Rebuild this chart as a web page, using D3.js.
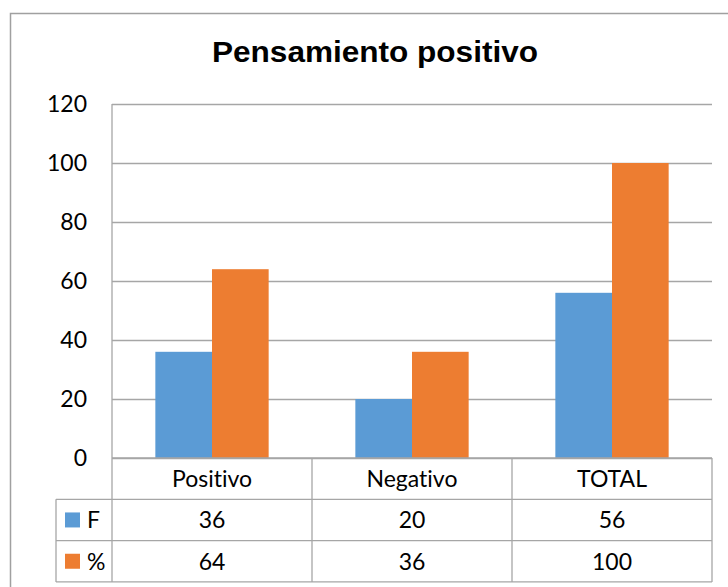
<!DOCTYPE html>
<html>
<head>
<meta charset="utf-8">
<script src="https://cdn.jsdelivr.net/npm/d3@7"></script>
<style>
  body { margin: 0; background: #fff; }
  svg { display: block; }
  text { font-variant-ligatures: none; font-feature-settings: "liga" 0; }
</style>
</head>
<body>
<div id="graph"></div>
<script>
// data
const categories = ['Positivo', 'Negativo', 'TOTAL'];
const seriesNames = ['F', '%'];
const valuesF = [36, 20, 56];
const valuesPct = [64, 36, 100];
const yTicks = [0, 20, 40, 60, 80, 100, 120];

const colors = { 'F': '#5b9bd5', '%': '#ed7d31' };
const lineColor = '#a6a6a6';
const font = 'Lato, "Open Sans", sans-serif';

var width = 728, height = 587;
var margin = { top: 104, left: 112, right: 16 };
var plotW = 600, plotH = 354;
var rowH = 41.3;

var svg = d3.select('#graph').append('svg')
  .attr('width', width)
  .attr('height', height);

// outer chart border (runs past the picture on right and bottom)
svg.append('rect')
  .attr('x', 10.5).attr('y', 13.5)
  .attr('width', 800).attr('height', 700)
  .attr('fill', 'none')
  .attr('stroke', '#a0a0a0')
  .attr('stroke-width', 1.5);

// title
svg.append('text')
  .attr('x', 375).attr('y', 62)
  .attr('text-anchor', 'middle')
  .attr('font-family', 'Arial, "Liberation Sans", sans-serif')
  .attr('font-weight', 'bold')
  .attr('font-size', 29)
  .attr('textLength', 326)
  .attr('lengthAdjust', 'spacingAndGlyphs')
  .text('Pensamiento positivo');

var g = svg.append('g')
  .attr('transform', 'translate(' + margin.left + ',' + margin.top + ')');

// scales
var y = d3.scaleLinear().domain([0, 120]).range([plotH, 0]);
var x0 = d3.scaleBand().domain(categories).range([0, plotW]).padding(0);
var x1 = d3.scaleBand().domain(seriesNames).range([0, x0.bandwidth()])
  .paddingInner(0).paddingOuter(0.765);

// gridlines + y labels
var yAxis = g.append('g')
  .call(d3.axisLeft(y).tickValues(yTicks).tickSize(-plotW).tickPadding(25));
yAxis.select('.domain').remove();
yAxis.selectAll('.tick line')
  .attr('stroke', lineColor)
  .attr('stroke-width', 1.3);
yAxis.selectAll('.tick text')
  .attr('font-family', font)
  .attr('font-size', 23)
  .attr('fill', '#000');

// bars
var rows = [valuesF, valuesPct];
var barData = [];
categories.forEach(function(c, i) {
  seriesNames.forEach(function(s, j) {
    barData.push({ cat: c, series: s, value: rows[j][i] });
  });
});

g.append('g')
  .selectAll('rect')
  .data(barData)
  .enter()
  .append('rect')
  .attr('x', function(d) { return x0(d.cat) + x1(d.series); })
  .attr('y', function(d) { return y(d.value); })
  .attr('width', x1.bandwidth())
  .attr('height', function(d) { return plotH - y(d.value); })
  .attr('fill', function(d) { return colors[d.series]; });

// left axis line
g.append('line')
  .attr('x1', 0).attr('x2', 0)
  .attr('y1', 0).attr('y2', plotH + rowH * 3)
  .attr('stroke', lineColor).attr('stroke-width', 1.3);

// ---------- data table ----------
var t = g.append('g').attr('transform', 'translate(0,' + plotH + ')');
var legendW = 56;

// horizontal lines
[0, 1, 2, 3].forEach(function(r) {
  t.append('line')
    .attr('x1', r === 0 ? 0 : -legendW).attr('x2', plotW)
    .attr('y1', r * rowH).attr('y2', r * rowH)
    .attr('stroke', lineColor).attr('stroke-width', 1.3);
});
// vertical lines
categories.forEach(function(c) {
  t.append('line')
    .attr('x1', x0(c) + x0.bandwidth()).attr('x2', x0(c) + x0.bandwidth())
    .attr('y1', 0).attr('y2', rowH * 3)
    .attr('stroke', lineColor).attr('stroke-width', 1.3);
});
t.append('line')
  .attr('x1', -legendW).attr('x2', -legendW)
  .attr('y1', rowH).attr('y2', rowH * 3)
  .attr('stroke', lineColor).attr('stroke-width', 1.3);

// header
t.selectAll('.hdr')
  .data(categories)
  .enter()
  .append('text')
  .attr('class', 'hdr')
  .attr('x', function(d) { return x0(d) + x0.bandwidth() / 2; })
  .attr('y', rowH / 2)
  .attr('dy', '0.36em')
  .attr('text-anchor', 'middle')
  .attr('font-family', font)
  .attr('font-size', 23)
  .text(function(d) { return d; });

// rows
seriesNames.forEach(function(s, j) {
  var ry = rowH * (j + 1);
  t.append('rect')
    .attr('x', -legendW + 9).attr('y', ry + rowH / 2 - 7.5)
    .attr('width', 15).attr('height', 15)
    .attr('fill', colors[s]);
  t.append('text')
    .attr('x', -legendW + 31).attr('y', ry + rowH / 2)
    .attr('dy', '0.36em')
    .attr('font-family', font)
    .attr('font-size', 23)
    .text(s);
  t.selectAll('.v' + j)
    .data(rows[j])
    .enter()
    .append('text')
    .attr('x', function(d, i) { return x0(categories[i]) + x0.bandwidth() / 2; })
    .attr('y', ry + rowH / 2)
    .attr('dy', '0.36em')
    .attr('text-anchor', 'middle')
    .attr('font-family', font)
    .attr('font-size', 23)
    .text(function(d) { return d; });
});
</script>
</body>
</html>
